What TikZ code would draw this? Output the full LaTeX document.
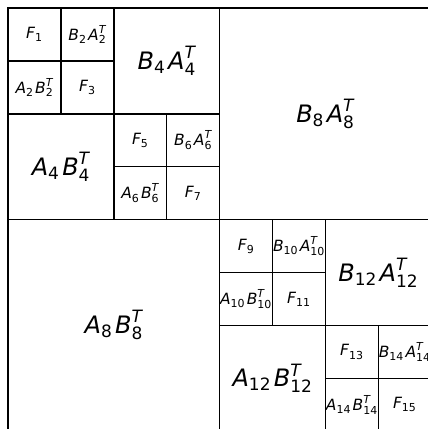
\documentclass[tikz,border=0pt]{standalone}
\usepackage{amsmath}
\usepackage{fontspec}
\setmainfont{DejaVu Sans}
\usetikzlibrary{positioning}
\DeclareMathSizes{15.5}{15.5}{11}{8}
\DeclareMathSizes{24}{24}{17}{12}
\newcommand{\lowrank}[3]{$\textit{#1}_{\textrm{#3}}\mkern2mu\textit{#2}_{\textrm{#3}}^{\textit{T}}$}
\newcommand{\fullblk}[1]{$\textit{F}_{\textrm{#1}}$}
\tikzset{
  cell/.style={draw, line width=1.4pt, inner sep=0pt, minimum size=52.9pt,
    font=\fontsize{15.5}{18}\selectfont},
  bigcell/.style={cell, minimum size=105.8pt, font=\fontsize{24}{28}\selectfont},
  hugecell/.style={cell, minimum size=211.6pt, font=\fontsize{24}{28}\selectfont},
}
\begin{document}
\begin{tikzpicture}[x=52.9pt, y=-52.9pt]
  \useasboundingbox (-8pt,8pt) rectangle (420pt,-421pt);
  % first quadrant
  \node[cell] (f1) at (0.5,0.5) {\fullblk{1}};
  \node[cell] (ba2) at (1.5,0.5) {\lowrank{B}{A}{2}};
  \node[cell] (ab2) at (0.5,1.5) {\lowrank{A}{B}{2}};
  \node[cell] (f3) at (1.5,1.5) {\fullblk{3}};
  \node[bigcell] (ba4) at (3,1) {\lowrank{B}{A}{4}};
  \node[bigcell] (ab4) at (1,3) {\lowrank{A}{B}{4}};
  \node[cell] (f5) at (2.5,2.5) {\fullblk{5}};
  \node[cell] (ba6) at (3.5,2.5) {\lowrank{B}{A}{6}};
  \node[cell] (ab6) at (2.5,3.5) {\lowrank{A}{B}{6}};
  \node[cell] (f7) at (3.5,3.5) {\fullblk{7}};
  % off-diagonal blocks
  \node[hugecell] (ba8) at (6,2) {\lowrank{B}{A}{8}};
  \node[hugecell] (ab8) at (2,6) {\lowrank{A}{B}{8}};
  % last quadrant
  \node[cell] (f9) at (4.5,4.5) {\fullblk{9}};
  \node[cell] (ba10) at (5.5,4.5) {\lowrank{B}{A}{10}};
  \node[cell] (ab10) at (4.5,5.5) {\lowrank{A}{B}{10}};
  \node[cell] (f11) at (5.5,5.5) {\fullblk{11}};
  \node[bigcell] (ba12) at (7,5) {\lowrank{B}{A}{12}};
  \node[bigcell] (ab12) at (5,7) {\lowrank{A}{B}{12}};
  \node[cell] (f13) at (6.5,6.5) {\fullblk{13}};
  \node[cell] (ba14) at (7.5,6.5) {\lowrank{B}{A}{14}};
  \node[cell] (ab14) at (6.5,7.5) {\lowrank{A}{B}{14}};
  \node[cell] (f15) at (7.5,7.5) {\fullblk{15}};
\end{tikzpicture}
\end{document}
